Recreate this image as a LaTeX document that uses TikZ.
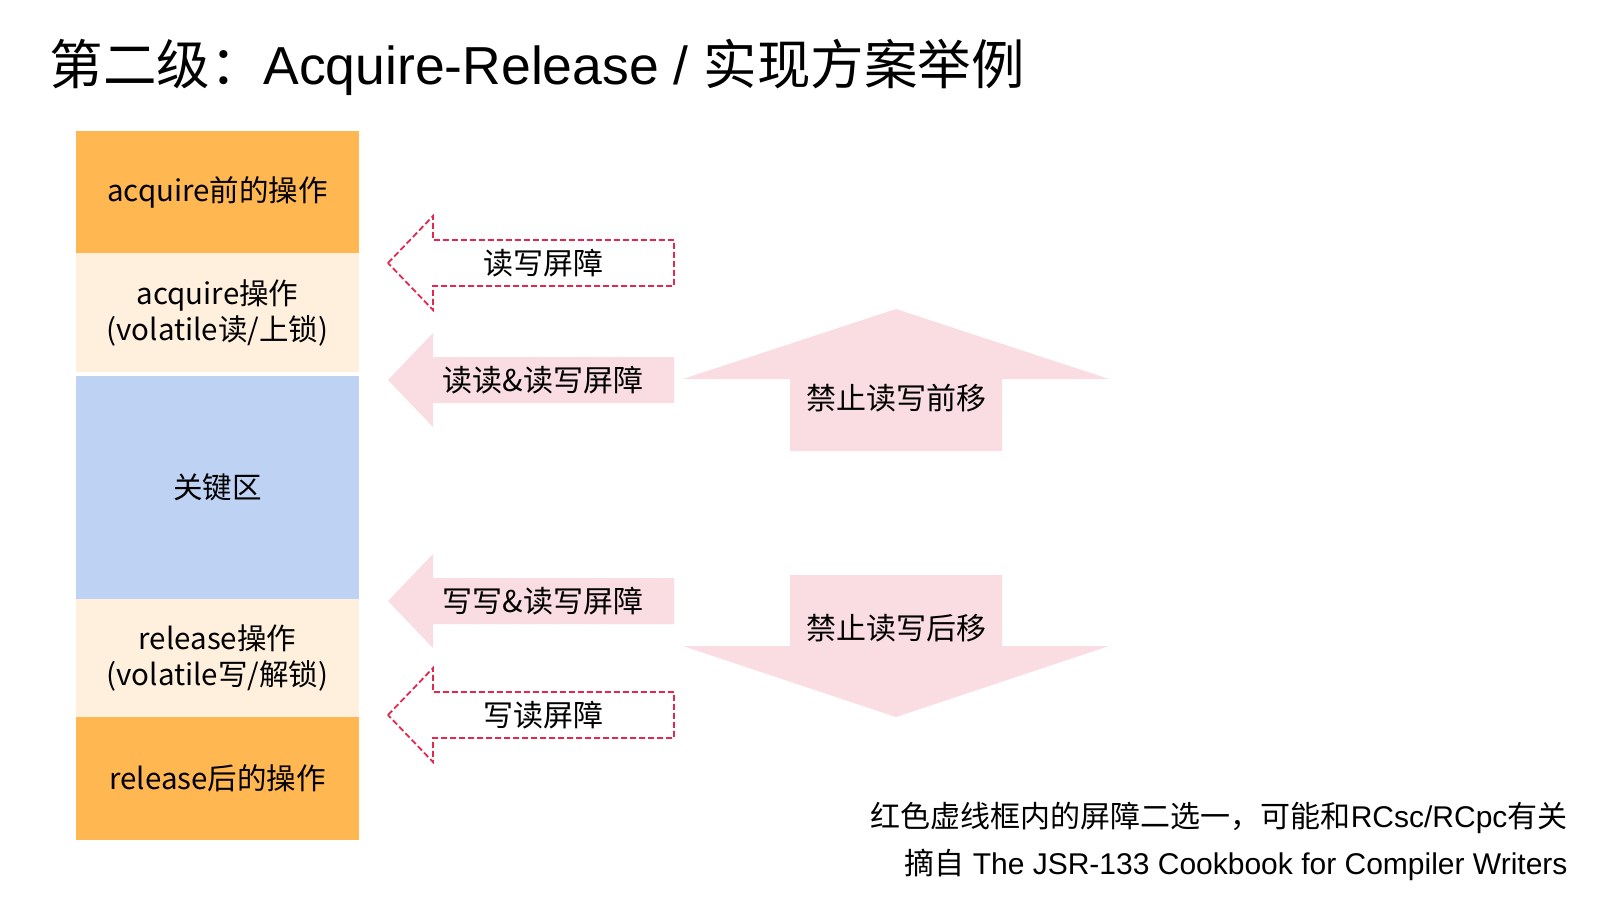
\documentclass[tikz,border=0pt]{standalone}
\usepackage{fontspec}
\usepackage{xcolor}
\setmainfont{Noto Sans CJK SC}
\newfontfamily\arial{Liberation Sans}
\usetikzlibrary{positioning}
\definecolor{opcolor}{HTML}{FFB752}
\definecolor{lightop}{HTML}{FFF0DE}
\definecolor{critblue}{HTML}{BED3F3}
\definecolor{barpink}{HTML}{FADDE2}
\definecolor{dashred}{HTML}{E3284F}

\begin{document}
\begin{tikzpicture}[x=1pt,y=-1pt,
  block/.style={minimum width=283pt,inner sep=0pt,outer sep=0pt,align=center,font=\fontsize{29.5}{36}\selectfont},
  barrier/.style={font=\fontsize{30}{36}\selectfont},
  dashbar/.style={draw=dashred,line width=1.8pt,dash pattern=on 6pt off 3pt},
  fillbar/.style={fill=barpink}]
\useasboundingbox[fill=white] (0,0) rectangle (1600,900);
\node[anchor=base west,font=\fontsize{53.5}{60}\selectfont] (title) at (46,84) {第二级：{\arial Acquire-Release / }实现方案举例};
% the operation column
\node[block,fill=opcolor,minimum height=122pt] (pre) at (217.5,192) {acquire前的操作};
\node[block,fill=lightop,minimum height=119pt,below=0pt of pre] (acq) {acquire操作\\(volatile读/上锁)};
\node[block,fill=critblue,minimum height=223pt,below=4pt of acq] (crit) {关键区};
\node[block,fill=lightop,minimum height=118pt,below=0pt of crit] (rel) {release操作\\(volatile写/解锁)};
\node[block,fill=opcolor,minimum height=123pt,below=0pt of rel] (post) {release后的操作};
% barriers
\foreach \y/\s in {263/dashbar,380/fillbar,601/fillbar,715/dashbar}
  \path[\s] (388,\y) -- (433,{\y-47}) -- (433,{\y-23}) -- (674,{\y-23}) -- (674,{\y+23}) -- (433,{\y+23}) -- (433,{\y+47}) -- cycle;
\node[barrier] (rw) at (543,263) {读写屏障};
\node[barrier] (rrrw) at (543,380) {读读\&读写屏障};
\node[barrier] (wwrw) at (543,601) {写写\&读写屏障};
\node[barrier] (wr) at (543,715) {写读屏障};
% no reordering
\fill[barpink] (896,309) -- (1109,379) -- (1002,379) -- (1002,451) -- (790,451) -- (790,379) -- (683,379) -- cycle;
\fill[barpink] (896,717) -- (1109,646) -- (1002,646) -- (1002,575) -- (790,575) -- (790,646) -- (683,646) -- cycle;
\node[barrier] (fwd) at (896,398) {禁止读写前移};
\node[barrier] (bwd) at (896,628) {禁止读写后移};
\node[anchor=base east,font=\fontsize{30}{36}\selectfont] (note) at (1571,827) {红色虚线框内的屏障二选一，可能和{\arial RCsc/RCpc}有关};
\node[anchor=base east,font=\fontsize{30}{36}\selectfont] (src) at (1571,874) {摘自{\arial\ The JSR-133 Cookbook for Compiler Writers}};
\end{tikzpicture}
\end{document}
